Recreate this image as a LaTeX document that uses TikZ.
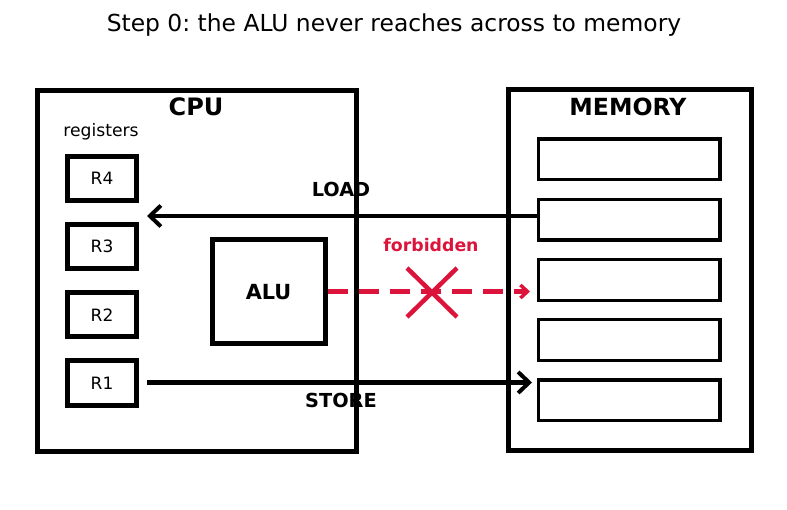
\documentclass[tikz,border=0pt]{standalone}
\usepackage{fontspec}
\setmainfont{DejaVu Sans}
\usetikzlibrary{arrows.meta}
\definecolor{crimson}{HTML}{DC143C}
\pgfdeclarelayer{bg}
\pgfsetlayers{bg,main}
\newcommand{\fs}[1]{\fontsize{#1}{#1}\selectfont}
\frenchspacing

\begin{document}
\begin{tikzpicture}[x=1pt, y=-1pt,
    bigbox/.style={draw, line width=5pt, inner sep=0pt},
    regbox/.style={draw, line width=5pt, inner sep=0pt, minimum width=69pt, minimum height=44pt, font=\fs{17}},
    cellbox/.style={draw, line width=3.3pt, inner sep=0pt, minimum width=181.7pt, minimum height=40.7pt},
    flow/.style={line width=4.5pt, -{Straight Barb[length=11pt, width=21pt, line width=4pt]}},
    lbl/.style={font=\fs{19.3}\bfseries}]
    \useasboundingbox (0,0) rectangle (787,510);

    % Title
    \node (title) at (394,25) {\fs{23.4}Step 0: the ALU never reaches across to memory};

    % CPU
    \node[bigbox, minimum width=319pt, minimum height=360.5pt] (cpu) at (197.25,270.75) {};
    \node[font=\fs{24}\bfseries] (cpulabel) at (196,107) {CPU};
    \node[font=\fs{17.2}] (reglabel) at (101,132) {registers};
    \foreach \i/\y in {4/178.5, 3/246.7, 2/314.8, 1/383}
        \node[regbox] (r\i) at (102,\y) {R\i};
    \node[bigbox, minimum width=113pt, minimum height=104pt, font=\fs{20.8}\bfseries] (alu) at (268.5,292) {ALU};

    % Memory
    \node[bigbox, minimum width=242.8pt, minimum height=360.5pt] (mem) at (629.9,270.25) {};
    \node[font=\fs{23.6}\bfseries] (memlabel) at (628,107) {MEMORY};
    \foreach \i/\y in {1/159.35, 2/219.6, 3/279.85, 4/340.1, 5/400.35}
        \node[cellbox] (m\i) at (629.2,\y) {};

    % Arrows (under the boxes)
    \coordinate (loadend) at (147,216);
    \coordinate (storebeg) at (147,382.5);
    \coordinate (storeend) at (532,382.5);
    \coordinate (dashend) at (530,291.5);
    \begin{pgfonlayer}{bg}
        \draw[flow] (m2.west |- loadend) -- (loadend);
        \node[lbl] (load) at (341,189) {LOAD};
        \draw[flow] (storebeg) -- (storeend);
        \node[lbl] (store) at (341,400) {STORE};
    \end{pgfonlayer}

    % Forbidden path
    \draw[crimson, line width=4.5pt, dash pattern=on 20pt off 11pt,
        -{Straight Barb[length=7pt, width=13pt, line width=3.5pt]}] (alu.east |- dashend) -- (dashend);
    \draw[crimson, line width=4.5pt] (407,268) -- (457,317);
    \draw[crimson, line width=4.5pt] (407,317) -- (457,268);
    \node[font=\fs{17.3}\bfseries, text=crimson] (forbid) at (431,245) {forbidden};
\end{tikzpicture}
\end{document}
